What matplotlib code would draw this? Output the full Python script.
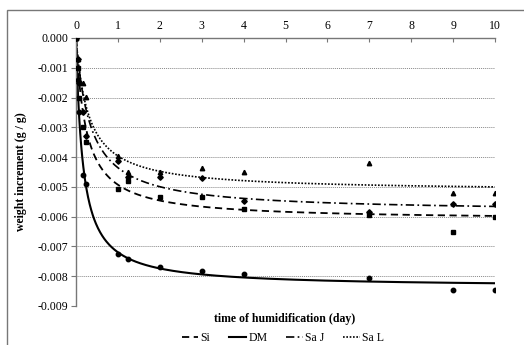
import numpy as np
import matplotlib
matplotlib.use("Agg")
import matplotlib.pyplot as plt
from matplotlib.patches import Rectangle

plt.rcParams['font.family'] = ['Liberation Serif', 'DejaVu Serif']

# measured days
days = [0, 0.04, 0.08, 0.17, 0.25, 1, 1.25, 2, 3, 4, 7, 9, 10]

si = [0, -0.0010, -0.0020, -0.0030, -0.0035, -0.00508, -0.0048, -0.00535,
      -0.00533, -0.00574, -0.00595, -0.00652, -0.0060]
dm = [0, -0.0014, -0.0025, -0.0046, -0.0049, -0.00727, -0.00743, -0.00768,
      -0.00781, -0.00794, -0.00805, -0.00845, -0.00845]
sa_j = [0, -0.0007, -0.0015, -0.0025, -0.0033, -0.00412, -0.00468, -0.00468,
        -0.00469, -0.00546, -0.00584, -0.00558, -0.00558]
sa_l = [0, -0.0007, -0.0014, -0.0015, -0.00197, -0.00396, -0.00451, -0.00449,
        -0.00437, -0.0045, -0.0042, -0.00519, -0.0052]

# hyperbolic trendline parameters (a, b): w = -a t / (b + t)
fit_si = (0.00612, 0.242)
fit_dm = (0.00837, 0.163)
fit_sa_j = (0.00585, 0.343)
fit_sa_l = (0.00515, 0.30)

labels = ['Si', 'DM', 'Sa J', 'Sa L']
yticks = [0, -0.001, -0.002, -0.003, -0.004, -0.005, -0.006, -0.007, -0.008, -0.009]
xticks = list(range(11))

fig = plt.figure(figsize=(5.24, 3.45), dpi=100)
fig.patches.append(Rectangle((7 / 524, -0.05), 1.2, 1 - 10 / 345 + 0.05,
                             transform=fig.transFigure, fill=False,
                             edgecolor='#777777', linewidth=1.0))
ax = fig.add_axes([76 / 524, 1 - 306 / 345, (495 - 76) / 524, (306 - 38) / 345])

t = np.linspace(0, 10, 800)
series = [
    (si, fit_si, 's', (0, (4, 2.5)), 1.3),
    (dm, fit_dm, 'o', '-', 1.5),
    (sa_j, fit_sa_j, 'D', (0, (5, 2, 1, 2)), 1.2),
    (sa_l, fit_sa_l, '^', (0, (1, 1)), 1.2),
]
handles = []
for (vals, (a, b), mk, ls, lw), lab in zip(series, labels):
    ax.plot(days, vals, linestyle='none', marker=mk, color='black',
            markersize=3.2 if mk != 'D' else 2.8, zorder=3)
    ln, = ax.plot(t, -a * t / (b + t), color='black', linestyle=ls,
                  linewidth=lw, label=lab)
    handles.append(ln)

ax.set_xlim(0, 10)
ax.set_ylim(-0.009, 0)
ax.set_xticks(xticks)
ax.set_yticks(yticks)
ax.set_yticklabels([f"{v:.3f}" for v in yticks])
ax.xaxis.tick_top()
ax.tick_params(axis='x', direction='in', length=3, pad=4, labelsize=8.5,
               color='#777777')
ax.tick_params(axis='y', direction='out', length=3.5, pad=2, labelsize=8.5,
               color='#777777')
for yv in yticks[1:]:
    ax.axhline(yv, color='#888888', linestyle=(0, (1, 1)), linewidth=0.7,
               zorder=1)
for s in ['right', 'bottom']:
    ax.spines[s].set_visible(False)
for s in ['left', 'top']:
    ax.spines[s].set_color('#777777')
    ax.spines[s].set_linewidth(1.0)

fig.text(21 / 524, 1 - 172 / 345, 'weight increment (g / g)', rotation=90,
         ha='center', va='center', fontsize=8.5, fontweight='bold')
fig.text(285 / 524, 1 - 319 / 345, 'time of humidification (day)',
         ha='center', va='center', fontsize=8.5, fontweight='bold')

fig.legend(handles=handles, labels=labels, loc='center', ncol=4,
           bbox_to_anchor=(283 / 524, 1 - 338 / 345), frameon=False,
           fontsize=8.5, handlelength=1.4, handletextpad=0.2,
           columnspacing=1.6, borderpad=0)

fig.savefig('out.png', dpi=100)
